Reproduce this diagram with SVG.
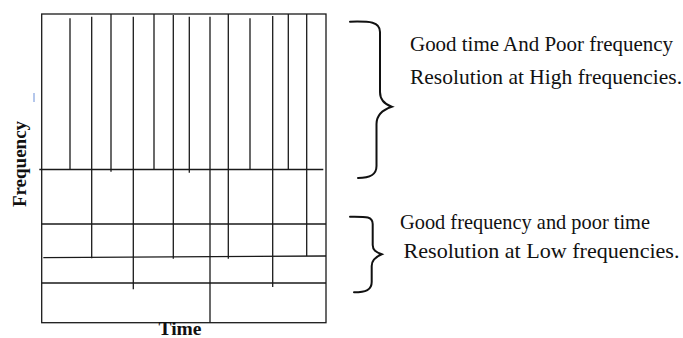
<svg xmlns="http://www.w3.org/2000/svg" width="683" height="338" viewBox="0 0 683 338">
<style>
.g{stroke:#1a1a1a;stroke-width:1.3;fill:none}
.br{stroke:#111;stroke-width:2;fill:none;stroke-linecap:round}
.t{font-size:21px;fill:#111}
.b{font-weight:bold;fill:#111}
</style>
<rect width="683" height="338" fill="#fff"/>
<g id="grid">
<rect class="g" x="41.7" y="14" width="284.3" height="308.7"/>
<line class="g" x1="39.3" y1="169.5" x2="323.3" y2="169.5"/>
<line class="g" x1="41.7" y1="224" x2="326" y2="224"/>
<line class="g" x1="43.3" y1="257.7" x2="326" y2="256"/>
<line class="g" x1="41.7" y1="283" x2="326" y2="283"/>
<line class="g" x1="70" y1="18.3" x2="70" y2="169.5"/>
<line class="g" x1="91.7" y1="16.7" x2="91.7" y2="258.3"/>
<line class="g" x1="111" y1="14" x2="111" y2="171.7"/>
<line class="g" x1="133.3" y1="16.7" x2="133.3" y2="289.3"/>
<line class="g" x1="154" y1="14" x2="154" y2="169.5"/>
<line class="g" x1="173.3" y1="15" x2="173.3" y2="258.7"/>
<line class="g" x1="189.3" y1="16.7" x2="189.3" y2="172.7"/>
<line class="g" x1="210" y1="16.7" x2="210" y2="322.7"/>
<line class="g" x1="228.3" y1="14" x2="228.3" y2="258.7"/>
<line class="g" x1="250" y1="18.3" x2="250" y2="169.5"/>
<line class="g" x1="272.7" y1="16" x2="272.7" y2="287"/>
<line class="g" x1="288.3" y1="14" x2="288.3" y2="169.5"/>
<line class="g" x1="306.7" y1="14" x2="306.7" y2="256"/>
<line x1="34" y1="93" x2="34" y2="102" stroke="#6a8fd8" stroke-width="1"/>
</g>
<g id="axis-labels" font-family="Liberation Serif, DejaVu Serif, serif">
<text class="b" font-size="19" x="0" y="0" transform="translate(25.5,164) rotate(-90)" text-anchor="middle">Frequency</text>
<text class="b" font-size="19.5" x="180" y="335" text-anchor="middle">Time</text>
</g>
<g id="brace-high">
<path class="br" d="M350,21.7 C370,21.2 380,21.5 380,32 L380,92 C380,100 384,104 391.7,106.7 C382,110 376.5,115 376.5,124 L376.5,166 C376.5,175 370,178 358,178"/>
</g>
<g id="brace-low">
<path class="br" d="M350,216.7 C365,216.7 372.7,216 372.7,224 L372.7,245 C372.7,250 376,252 381.7,254.3 C375,257 371.7,260 371.7,266 L371.7,282 C371.7,290 366,292.3 354,292.3"/>
</g>
<g id="text-high" font-family="Liberation Serif, DejaVu Serif, serif">
<text class="t" x="410" y="50.5" textLength="263" lengthAdjust="spacingAndGlyphs">Good time And Poor frequency</text>
<text class="t" x="410" y="84" textLength="272" lengthAdjust="spacingAndGlyphs">Resolution at High frequencies.</text>
</g>
<g id="text-low" font-family="Liberation Serif, DejaVu Serif, serif">
<text class="t" x="400" y="229" textLength="250" lengthAdjust="spacingAndGlyphs">Good frequency and poor time</text>
<text class="t" x="403.5" y="257.5" textLength="276" lengthAdjust="spacingAndGlyphs">Resolution at Low frequencies.</text>
</g>
</svg>
